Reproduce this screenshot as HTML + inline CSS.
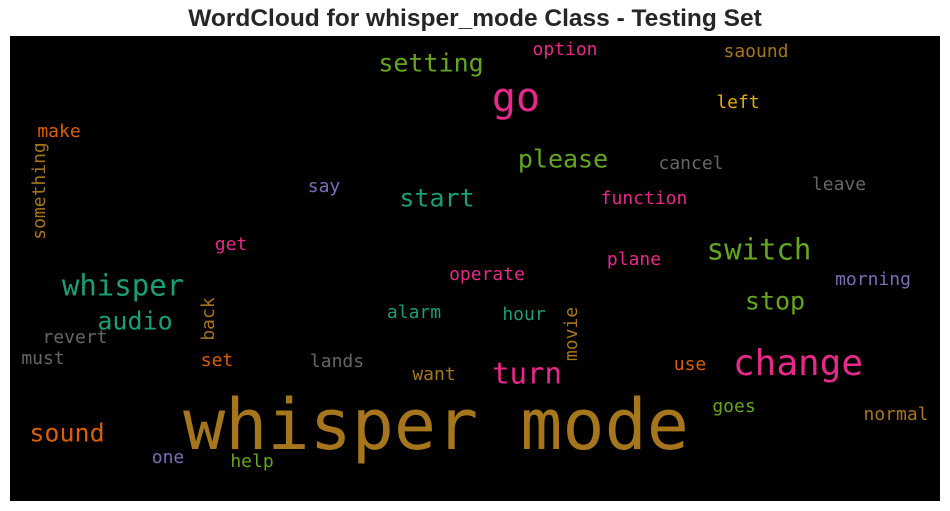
<!DOCTYPE html>
<html><head><meta charset="utf-8"><style>
html,body{margin:0;padding:0;background:#fff;width:950px;height:511px;overflow:hidden;position:relative}
#title{position:absolute;left:0;width:950px;top:5px;text-align:center;font:bold 24.5px "Liberation Sans",sans-serif;color:#262626}
#cloud{position:absolute;left:10px;top:36px;width:930px;height:465px;background:#000}
.w{position:absolute;font-family:"DejaVu Sans Mono","Liberation Mono",monospace;line-height:1;white-space:nowrap;transform:translate(-50%,-50%)}
.v{transform:translate(-50%,-50%) rotate(-90deg)}
</style></head><body>
<div id="title">WordCloud for whisper_mode Class - Testing Set</div>
<div id="cloud"></div>
<script>
const words=["whisper mode","go","change","whisper","switch","turn","setting","please","start","stop","audio","sound","option","saound","left","make","something","cancel","leave","say","function","get","plane","operate","morning","back","alarm","hour","movie","revert","must","set","lands","use","want","goes","normal","one","help"];
const weights=[70,40,36,29,29,29,25,25,25,25,25,25,18,18,18,18,18,18,18,18,18,18,18,18,18,18,18,18,18,18,18,18,18,18,18,18,18,18,18];
const colors=["#a6761d","#e7298a","#e7298a","#1b9e77","#66a61e","#e7298a","#66a61e","#66a61e","#1b9e77","#66a61e","#1b9e77","#d95f02","#e7298a","#a6761d","#e6ab02","#d95f02","#a6761d","#666666","#666666","#7570b3","#e7298a","#e7298a","#e7298a","#e7298a","#7570b3","#a6761d","#1b9e77","#1b9e77","#a6761d","#666666","#666666","#d95f02","#666666","#d95f02","#a6761d","#66a61e","#a6761d","#7570b3","#66a61e"];
const cx=[436,516,798,123,759,527,431,563,437,775,135,67,565,756,738,59,40,691,839,324,644,231,634,487,873,209,414,524,572,75,43,217,337,690,434,734,896,168,252];
const cy=[425,98,364,286,250,374,63,159,198,301,321,433,50,52,103,132,191,164,185,187,199,245,260,275,280,319,313,315,334,338,359,361,362,365,375,407,415,458,462];
const vert=[16,25,28];
const c=document.getElementById('cloud');
words.forEach((t,i)=>{
  const d=document.createElement('div');
  d.className='w'+(vert.includes(i)?' v':'');
  
  
  d.textContent=t;
  d.style.left=(cx[i]-10)+'px';
  d.style.top=(cy[i]-36)+'px';
  d.style.fontSize=weights[i]+'px';
  d.style.color=colors[i];
  c.appendChild(d);
});
</script>
</body></html>
